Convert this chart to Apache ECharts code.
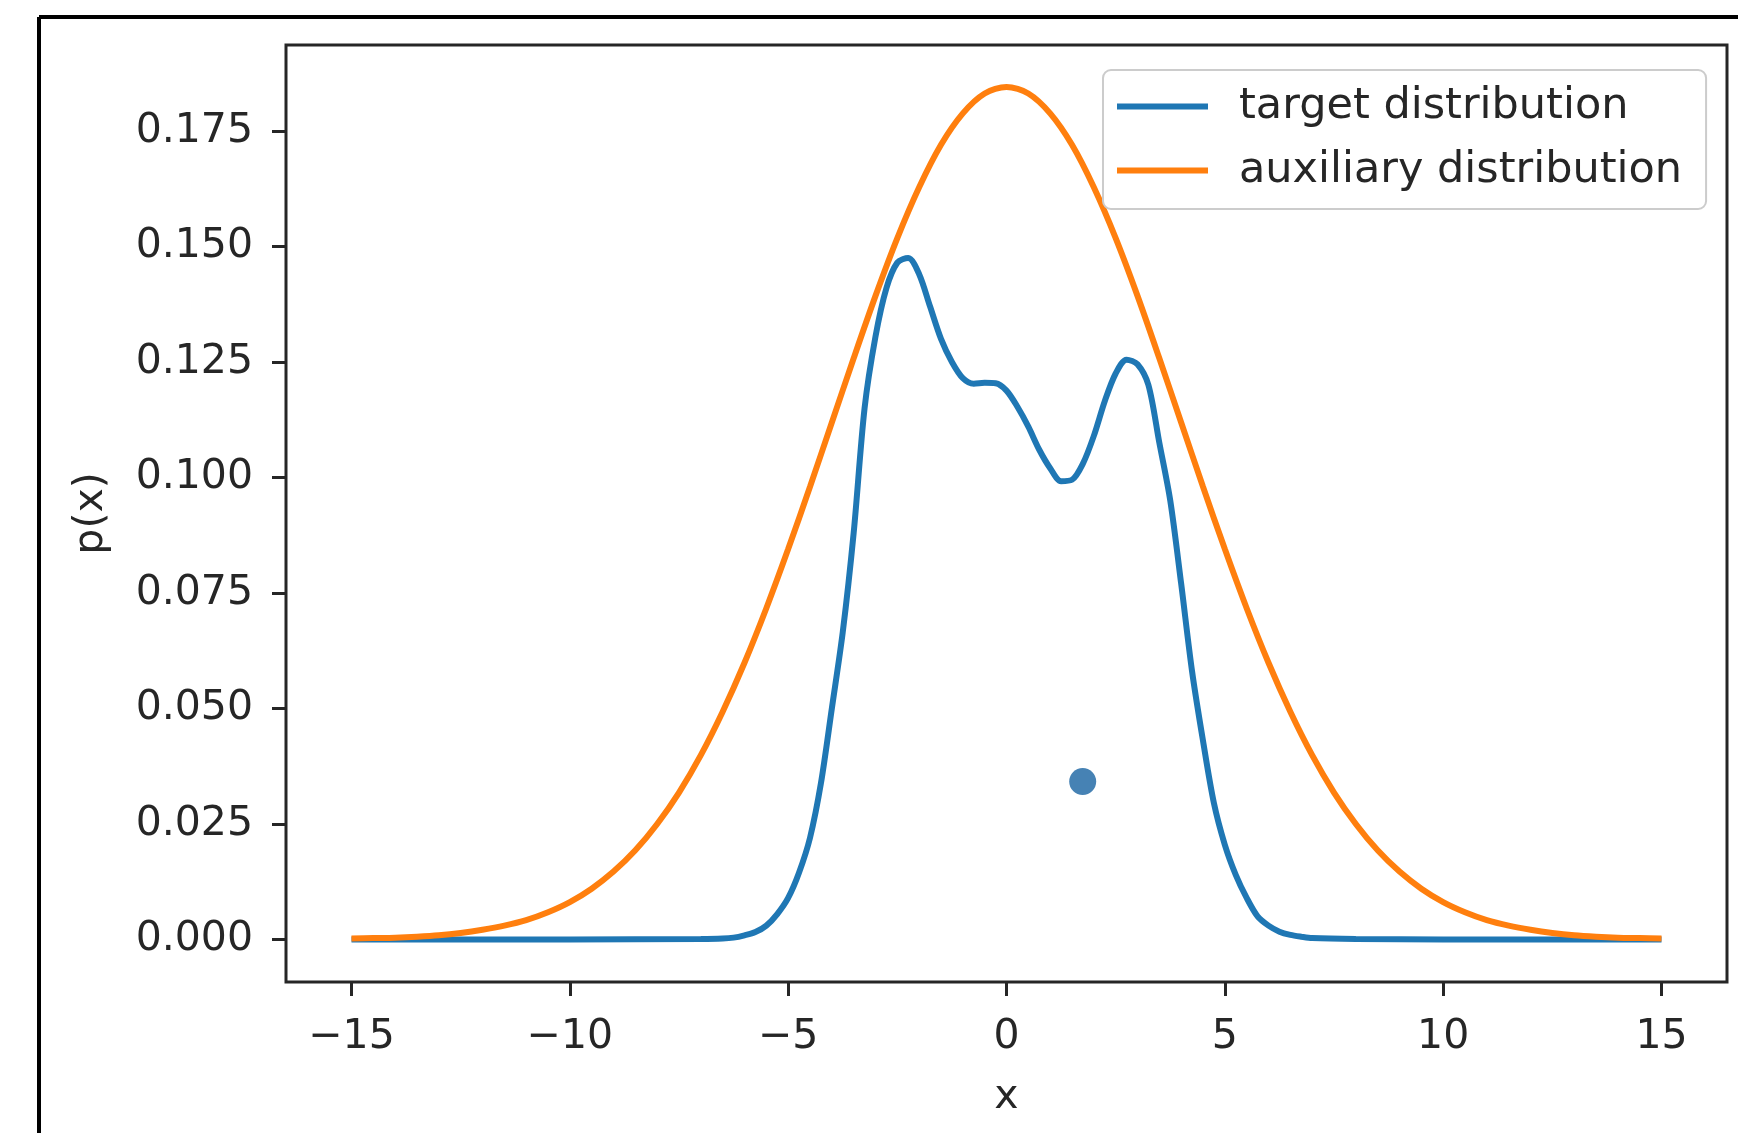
<!DOCTYPE html>
<html>
<head>
<meta charset="utf-8">
<script src="https://cdn.jsdelivr.net/npm/echarts@6/dist/echarts.min.js"></script>
<style>
  html, body { margin: 0; padding: 0; background: #fff; }
  #main { width: 1738px; height: 1133px; }
</style>
</head>
<body>
<div id="main"></div>
<script>
    var myChart = echarts.init(document.getElementById('main'));

    // auxiliary distribution (orange)
    var auxX = [-15, -14.5, -14, -13.5, -13, -12.5, -12, -11.5, -11, -10.5, -10, -9.5, -9, -8.5, -8, -7.5, -7, -6.5, -6, -5.5,
        -5, -4.5, -4, -3.5, -3, -2.5, -2, -1.5, -1, -0.5, 0, 0.5, 1, 1.5, 2, 2.5, 3, 3.5, 4, 4.5,
        5, 5.5, 6, 6.5, 7, 7.5, 8, 8.5, 9, 9.5, 10, 10.5, 11, 11.5, 12, 12.5, 13, 13.5, 14, 14.5, 15];
    var auxY = [0.0002, 0.0003, 0.0004, 0.0006, 0.0009, 0.0014, 0.0021, 0.0030, 0.0042, 0.0059, 0.0081, 0.0110, 0.0147, 0.0193, 0.0250, 0.0318, 0.0399, 0.0493, 0.0599, 0.0717,
        0.0845, 0.0980, 0.1119, 0.1258, 0.1393, 0.1518, 0.1628, 0.1720, 0.1788, 0.1831, 0.1845, 0.1831, 0.1788, 0.1720, 0.1628, 0.1518, 0.1393, 0.1258, 0.1119, 0.0980,
        0.0845, 0.0717, 0.0599, 0.0493, 0.0399, 0.0318, 0.0250, 0.0193, 0.0147, 0.0110, 0.0081, 0.0059, 0.0042, 0.0030, 0.0021, 0.0014, 0.0009, 0.0006, 0.0004, 0.0003, 0.0002];

    // target distribution (blue)
    var targetX = [-15, -10, -7, -6.5, -6.25, -6, -5.75, -5.5, -5.25, -5, -4.75, -4.5, -4.25, -4, -3.75, -3.5, -3.25, -3, -2.75, -2.5,
        -2.25, -2, -1.75, -1.5, -1.25, -1, -0.75, -0.5, -0.25, 0, 0.25, 0.5, 0.75, 1, 1.25, 1.5, 1.75, 2, 2.25, 2.5,
        2.75, 3, 3.25, 3.5, 3.75, 4, 4.25, 4.5, 4.75, 5, 5.25, 5.5, 5.75, 6, 6.25, 6.5, 6.75, 7, 8, 10, 15];
    var targetY = [0, 0, 0.0001, 0.0002, 0.0004, 0.0009, 0.0016, 0.0030, 0.0055, 0.0090, 0.0145, 0.0220, 0.0338, 0.0500, 0.0665, 0.0880, 0.1150, 0.1305, 0.1410, 0.1465,
        0.1475, 0.1440, 0.1370, 0.1300, 0.1250, 0.1215, 0.1203, 0.1205, 0.1204, 0.1188, 0.1153, 0.1110, 0.1060, 0.1020, 0.0992, 0.0995, 0.1030, 0.1090, 0.1165, 0.1225,
        0.1255, 0.1245, 0.1200, 0.1075, 0.0950, 0.0770, 0.0580, 0.0430, 0.0295, 0.0205, 0.0140, 0.0090, 0.0050, 0.0030, 0.0017, 0.0010, 0.0006, 0.0003, 0.0001, 0, 0];

    // the single sampled point
    var sampleX = [1.745];
    var sampleY = [0.0342];

    var xTicks = [-15, -10, -5, 0, 5, 10, 15];
    var yTicks = [0, 0.025, 0.05, 0.075, 0.1, 0.125, 0.15, 0.175];

    const pairs = (xs, ys) => xs.map((x, i) => [x, ys[i]]);

    var font = 'DejaVu Sans';
    var ink = '#262626';

    option = {
        animation: false,
        backgroundColor: '#fff',
        graphic: [
            {type: 'line', shape: {x1: 39, y1: 17, x2: 1738, y2: 17}, style: {stroke: '#000', lineWidth: 4}},
            {type: 'line', shape: {x1: 39, y1: 17, x2: 39, y2: 1133}, style: {stroke: '#000', lineWidth: 4}}
        ],
        grid: {
            left: 286, right: 11, top: 45, bottom: 151,
            show: true, borderColor: ink, borderWidth: 3,
            outerBoundsMode: 'none'
        },
        legend: {
            data: ['target distribution', 'auxiliary distribution'],
            orient: 'vertical',
            left: 1103, top: 70,
            padding: [15, 24, 17, 14],
            itemGap: 21,
            itemWidth: 91, itemHeight: 6,
            icon: 'rect',
            backgroundColor: 'rgba(255,255,255,0.8)',
            borderColor: '#cccccc', borderWidth: 2, borderRadius: 8,
            textStyle: {fontSize: 43, fontFamily: font, color: ink, padding: [0, 0, 0, 26]}
        },
        xAxis: {
            type: 'value', min: -16.5, max: 16.5,
            axisLine: {show: false, onZero: false},
            splitLine: {show: false},
            axisTick: {customValues: xTicks, length: 14, lineStyle: {width: 3, color: ink}},
            axisLabel: {
                customValues: xTicks, fontSize: 41, fontFamily: font, color: ink, margin: 35,
                formatter: v => v < 0 ? '\u2212' + Math.abs(v) : String(v)
            },
            name: 'x', nameLocation: 'middle', nameGap: 95,
            nameTextStyle: {fontSize: 41, fontFamily: font, color: ink}
        },
        yAxis: {
            type: 'value', min: -0.0092, max: 0.1936,
            axisLine: {show: false, onZero: false},
            splitLine: {show: false},
            axisTick: {customValues: yTicks, length: 14, lineStyle: {width: 3, color: ink}},
            axisLabel: {
                customValues: yTicks, fontSize: 41, fontFamily: font, color: ink, margin: 33,
                padding: [10, 0, 0, 0],
                formatter: v => v.toFixed(3)
            },
            name: 'p(x)', nameLocation: 'middle', nameGap: 174, nameRotate: 90,
            nameTextStyle: {fontSize: 41, fontFamily: font, color: ink}
        },
        series: [
            {
                name: 'target distribution', type: 'line',
                data: pairs(targetX, targetY),
                smooth: 0.3, showSymbol: false,
                color: '#1f77b4', lineStyle: {width: 6, color: '#1f77b4'}
            },
            {
                name: 'auxiliary distribution', type: 'line',
                data: pairs(auxX, auxY),
                smooth: 0.3, showSymbol: false,
                color: '#ff7f0e', lineStyle: {width: 6, color: '#ff7f0e'}
            },
            {
                name: 'sample', type: 'scatter',
                data: pairs(sampleX, sampleY),
                symbolSize: 27,
                itemStyle: {color: '#4682b4', opacity: 1}
            }
        ]
    };

    myChart.setOption(option);
</script>
</body>
</html>
